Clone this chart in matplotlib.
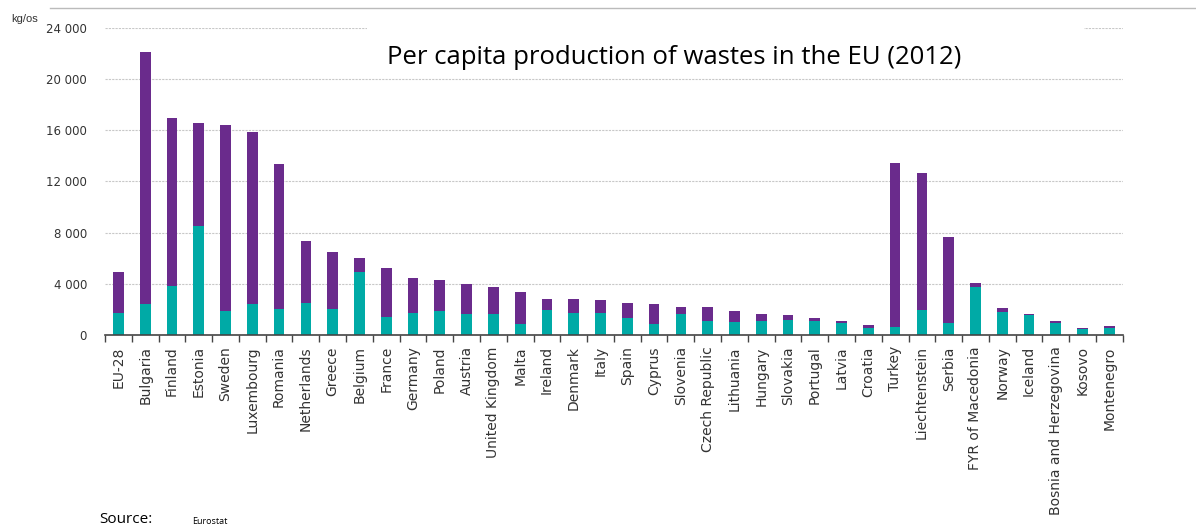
import matplotlib
matplotlib.use("Agg")
import matplotlib.pyplot as plt
from matplotlib.patches import Rectangle
from matplotlib.lines import Line2D
import numpy as np

countries = ["EU-28", "Bulgaria", "Finland", "Estonia", "Sweden", "Luxembourg", "Romania",
             "Netherlands", "Greece", "Belgium", "France", "Germany", "Poland", "Austria",
             "United Kingdom", "Malta", "Ireland", "Denmark", "Italy", "Spain", "Cyprus",
             "Slovenia", "Czech Republic", "Lithuania", "Hungary", "Slovakia", "Portugal",
             "Latvia", "Croatia", "Turkey", "Liechtenstein", "Serbia", "FYR of Macedonia",
             "Norway", "Iceland", "Bosnia and Herzegovina", "Kosovo", "Montenegro"]
# total production per capita (kg)
total = [4900, 22090, 16930, 16590, 16380, 15830, 13330,
         7320, 6460, 5990, 5260, 4480, 4270, 3960,
         3720, 3380, 2840, 2840, 2730, 2520, 2400,
         2190, 2190, 1850, 1640, 1540, 1300,
         1090, 780, 13410, 12680, 7630, 4040,
         2080, 1640, 1090, 570, 680]
# lower (teal) part
teal = [1740, 2420, 3830, 8520, 1850, 2420, 2000,
        2530, 2000, 4920, 1430, 1740, 1850, 1640,
        1640, 880, 1980, 1740, 1740, 1330, 880,
        1640, 1090, 990, 1090, 1200, 1090,
        910, 570, 650, 1950, 910, 3720,
        1820, 1540, 960, 440, 520]
yticks = [0, 4000, 8000, 12000, 16000, 20000, 24000]
ytick_labels = ["0", "4 000", "8 000", "12 000", "16 000", "20 000", "24 000"]

purple_c = "#6a2b8c"
teal_c = "#00aaa6"

x = np.arange(len(countries))
rest = np.array(total) - np.array(teal)

fig = plt.figure(figsize=(11.96, 5.26), dpi=100)
ax = fig.add_axes([0.0878, 0.363, 0.851, 0.584])

ax.bar(x, teal, width=0.4, color=teal_c, zorder=2)
ax.bar(x, rest, bottom=teal, width=0.4, color=purple_c, zorder=2)

ax.set_xlim(-0.5, len(countries) - 0.5)
ax.set_ylim(0, 24000)
ax.set_yticks(yticks)
ax.set_yticklabels(ytick_labels, fontsize=8.5, color="#333333", family="DejaVu Sans")
ax.tick_params(axis="y", length=0, pad=13)
ax.grid(axis="y", color="#c8c8c8", linestyle=(0, (2, 1)), linewidth=0.8, zorder=0)
ax.set_axisbelow(True)

ax.set_xticks(x)
ax.set_xticklabels(countries, rotation=90, fontsize=10, color="#333333", family="DejaVu Sans")
ax.tick_params(axis="x", length=0, pad=8)
ax.set_xticks(np.arange(len(countries) + 1) - 0.5, minor=True)
ax.tick_params(axis="x", which="minor", length=5, color="#444444", width=1)

for s in ["left", "right", "top"]:
    ax.spines[s].set_visible(False)
ax.spines["bottom"].set_color("#444444")
ax.spines["bottom"].set_linewidth(1.2)

# white box behind title hiding part of the top gridline
fig.add_artist(Rectangle((0.307, 0.852), 0.599, 0.103, transform=fig.transFigure,
                         facecolor="white", edgecolor="none", zorder=3))
fig.text(0.564, 0.89, "Per capita production of wastes in the EU (2012)",
         ha="center", va="center", fontsize=18.5, family="Open Sans", zorder=4)

fig.add_artist(Line2D([0.042, 1.0], [0.984, 0.984], transform=fig.transFigure,
                      color="#bbbbbb", linewidth=1))
fig.text(0.009, 0.958, "kg/os", fontsize=8, color="#333333", family="Liberation Sans")
fig.text(0.083, 0.005, "Source:", fontsize=11, family="Open Sans")
fig.text(0.161, 0.003, "Eurostat", fontsize=6.5, family="Open Sans")

plt.savefig("out.png", dpi=100)
